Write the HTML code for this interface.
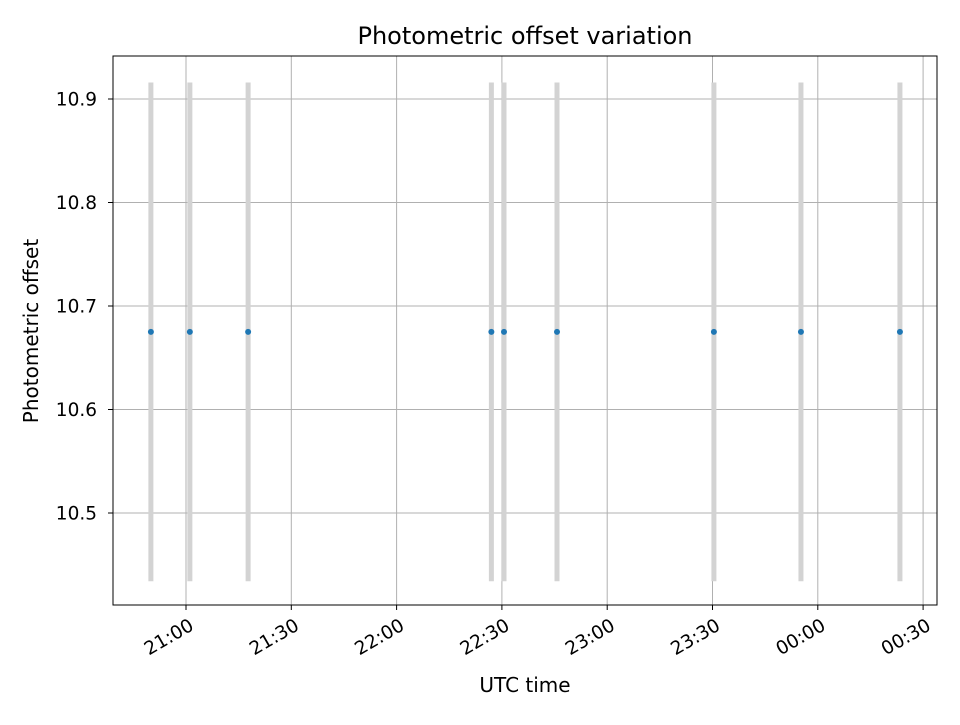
<!DOCTYPE html>
<html><head><meta charset="utf-8"><style>
body{margin:0;background:#fff;font-family:"Liberation Sans","DejaVu Sans",sans-serif}
</style></head><body>
<svg id="chart" width="960" height="720" xmlns="http://www.w3.org/2000/svg" font-family="DejaVu Sans, Liberation Sans, sans-serif">
<rect width="960" height="720" fill="#fff"/>
<g id="grid"></g><g id="marks"></g><g id="axes"></g>
<text x="525" y="44" text-anchor="middle" font-size="24">Photometric offset variation</text>
<text x="525" y="692" text-anchor="middle" font-size="20">UTC time</text>
<text transform="translate(38,331) rotate(-90)" text-anchor="middle" font-size="20">Photometric offset</text>
</svg>
<script>
// minutes since 21:00 UTC
const times=[-10,1.1,17.7,87,90.6,105.7,150.4,175.2,203.4];
const values=[10.675,10.675,10.675,10.675,10.675,10.675,10.675,10.675,10.675];
const errors=[0.241,0.241,0.241,0.241,0.241,0.241,0.241,0.241,0.241];
const xTicks=[0,30,60,90,120,150,180,210];
const xTickLabels=["21:00","21:30","22:00","22:30","23:00","23:30","00:00","00:30"];
const yTicks=[10.5,10.6,10.7,10.8,10.9];
const L=113,R=937,T=56,B=605;
const x=m=>186+m*(105.3/30);
const y=v=>306-(v-10.7)*1035;
const NS="http://www.w3.org/2000/svg";
function mk(p,tag,a){const e=document.createElementNS(NS,tag);for(const k in a)e.setAttribute(k,a[k]);p.appendChild(e);return e;}
const g=document.getElementById('grid'),m=document.getElementById('marks'),ax=document.getElementById('axes');
xTicks.forEach((t,i)=>{
 const l=mk(g,'line',{x1:x(t),x2:x(t),y1:T,y2:B,stroke:'#b0b0b0','stroke-width':1});
 
 
 const tk=mk(ax,'line',{x1:x(t),x2:x(t),y1:B,y2:B+5,stroke:'#000'});
 
 
 const ax0=x(t)+9,ay0=B+24;
 const tx=mk(ax,'text',{x:ax0,y:ay0,'font-size':18.5,'text-anchor':'end',transform:`rotate(-30 ${ax0} ${ay0})`});
 tx.textContent=xTickLabels[i];
 
 
});
yTicks.forEach(v=>{
 const l=mk(g,'line',{x1:L,x2:R,y1:y(v),y2:y(v),stroke:'#b0b0b0','stroke-width':1});
 
 
 const tk=mk(ax,'line',{x1:L-5,x2:L,y1:y(v),y2:y(v),stroke:'#000'});
 
 
 const tx=mk(ax,'text',{x:L-16,y:y(v)+6.5,'font-size':18.5,'text-anchor':'end'});
 tx.textContent=v.toFixed(1);
 
 
});
times.forEach((t,i)=>{
 const e=mk(m,'line',{x1:x(t),x2:x(t),y1:y(values[i]+errors[i]),y2:y(values[i]-errors[i]),stroke:'#d3d3d3','stroke-width':5});
 
 
});
times.forEach((t,i)=>{
 const c=mk(m,'circle',{cx:x(t),cy:y(values[i]),r:3,fill:'#1f77b4'});
 
 
});
const fr=mk(ax,'rect',{x:L,y:T,width:R-L,height:B-T,fill:'none',stroke:'#000','stroke-width':1});


</script>
</body></html>
